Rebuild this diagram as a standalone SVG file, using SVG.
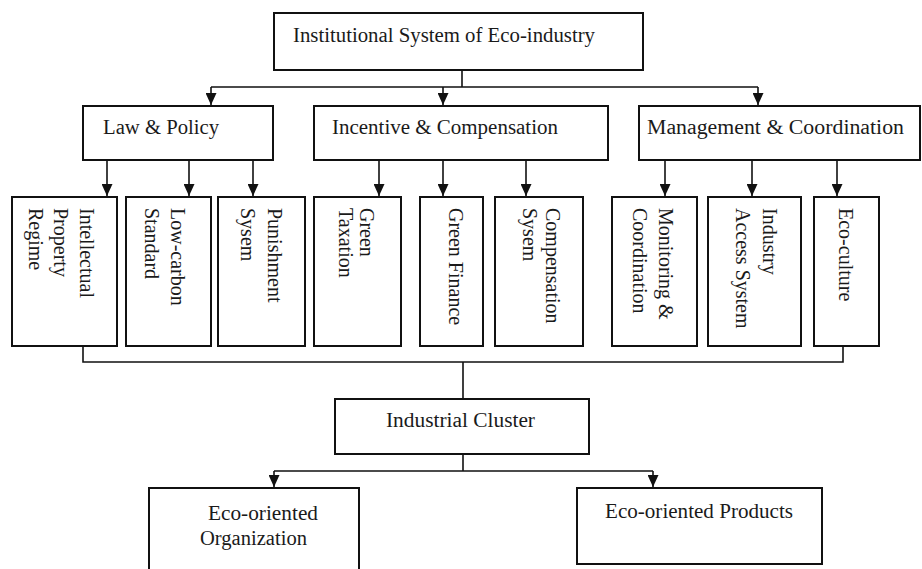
<svg xmlns="http://www.w3.org/2000/svg" width="922" height="569" viewBox="0 0 922 569">
<style>
.box{fill:#fff;stroke:#111;stroke-width:2}
.t{font-family:"Liberation Serif","Times New Roman",serif;font-size:20px;fill:#1a1a1a}
.c{fill:none;stroke:#111;stroke-width:1.6}
</style>
<defs>
<marker id="ah" markerWidth="12" markerHeight="11" refX="12" refY="5.5" orient="auto" markerUnits="userSpaceOnUse" viewBox="0 0 12 11">
<path d="M0,0 L12,5.5 L0,11 Z" fill="#111"/>
</marker>
</defs>
<rect width="922" height="569" fill="#fff"/>
<g id="connectors">
<path class="c" d="M462,70 V87 M211,87 H758"/>
<path class="c" d="M211,87 V105" marker-end="url(#ah)"/>
<path class="c" d="M443,87 V105" marker-end="url(#ah)"/>
<path class="c" d="M758,87 V105" marker-end="url(#ah)"/>
<path class="c" d="M107,160 V196" marker-end="url(#ah)"/>
<path class="c" d="M189,160 V196" marker-end="url(#ah)"/>
<path class="c" d="M253,160 V196" marker-end="url(#ah)"/>
<path class="c" d="M379,160 V196" marker-end="url(#ah)"/>
<path class="c" d="M443,160 V196" marker-end="url(#ah)"/>
<path class="c" d="M526,160 V196" marker-end="url(#ah)"/>
<path class="c" d="M665,160 V196" marker-end="url(#ah)"/>
<path class="c" d="M752,160 V196" marker-end="url(#ah)"/>
<path class="c" d="M837,160 V196" marker-end="url(#ah)"/>
<path class="c" d="M83,346 V362 H843 V346 M463,362 V399"/>
<path class="c" d="M463,454 V471 M274,471 H653"/>
<path class="c" d="M274,471 V487" marker-end="url(#ah)"/>
<path class="c" d="M653,471 V487" marker-end="url(#ah)"/>
</g>
<g id="root"><rect class="box" x="274" y="13" width="369" height="57"/><text class="t" x="293" y="42" textLength="302" lengthAdjust="spacingAndGlyphs">Institutional System of Eco-industry</text></g>
<g id="law"><rect class="box" x="83" y="106" width="190" height="54"/><text class="t" x="103" y="134" textLength="116" lengthAdjust="spacingAndGlyphs">Law &amp; Policy</text></g>
<g id="incentive"><rect class="box" x="314" y="106" width="294" height="54"/><text class="t" x="332" y="134" textLength="226" lengthAdjust="spacingAndGlyphs">Incentive &amp; Compensation</text></g>
<g id="management"><rect class="box" x="639" y="106" width="281" height="54"/><text class="t" x="647" y="134" textLength="257" lengthAdjust="spacingAndGlyphs">Management &amp; Coordination</text></g>
<g id="intellectual"><rect class="box" x="12" y="197" width="105" height="149"/>
<text class="t" transform="translate(80,208) rotate(90)">Intellectual</text>
<text class="t" transform="translate(54,208) rotate(90)">Property</text>
<text class="t" transform="translate(29,208) rotate(90)">Regime</text></g>
<g id="lowcarbon"><rect class="box" x="126" y="197" width="85" height="149"/>
<text class="t" transform="translate(171,208) rotate(90)">Low-carbon</text>
<text class="t" transform="translate(145,208) rotate(90)">Standard</text></g>
<g id="punishment"><rect class="box" x="218" y="197" width="87" height="149"/>
<text class="t" transform="translate(268,208) rotate(90)">Punishment</text>
<text class="t" transform="translate(241,208) rotate(90)">Sysem</text></g>
<g id="taxation"><rect class="box" x="314" y="197" width="87" height="149"/>
<text class="t" transform="translate(360,208) rotate(90)">Green</text>
<text class="t" transform="translate(339,208) rotate(90)">Taxation</text></g>
<g id="finance"><rect class="box" x="420" y="197" width="63" height="149"/>
<text class="t" transform="translate(449,208) rotate(90)">Green Finance</text></g>
<g id="compensation"><rect class="box" x="495" y="197" width="88" height="149"/>
<text class="t" transform="translate(546,208) rotate(90)">Compensation</text>
<text class="t" transform="translate(523,208) rotate(90)">Sysem</text></g>
<g id="monitoring"><rect class="box" x="612" y="197" width="85" height="149"/>
<text class="t" transform="translate(659,208) rotate(90)">Monitoring &amp;</text>
<text class="t" transform="translate(633,208) rotate(90)">Coordination</text></g>
<g id="access"><rect class="box" x="708" y="197" width="93" height="149"/>
<text class="t" transform="translate(763,208) rotate(90)">Industry</text>
<text class="t" transform="translate(736,208) rotate(90)">Access System</text></g>
<g id="ecoculture"><rect class="box" x="814" y="197" width="65" height="149"/>
<text class="t" transform="translate(839,208) rotate(90)">Eco-culture</text></g>
<g id="cluster"><rect class="box" x="335" y="399" width="254" height="55"/><text class="t" x="386" y="427" textLength="149" lengthAdjust="spacingAndGlyphs">Industrial Cluster</text></g>
<g id="organization"><rect class="box" x="149" y="488" width="210" height="90"/>
<text class="t" x="208" y="520" textLength="110" lengthAdjust="spacingAndGlyphs">Eco-oriented</text>
<text class="t" x="200" y="545" textLength="107" lengthAdjust="spacingAndGlyphs">Organization</text></g>
<g id="products"><rect class="box" x="577" y="488" width="245" height="76"/>
<text class="t" x="605" y="518" textLength="188" lengthAdjust="spacingAndGlyphs">Eco-oriented Products</text></g>
</svg>
